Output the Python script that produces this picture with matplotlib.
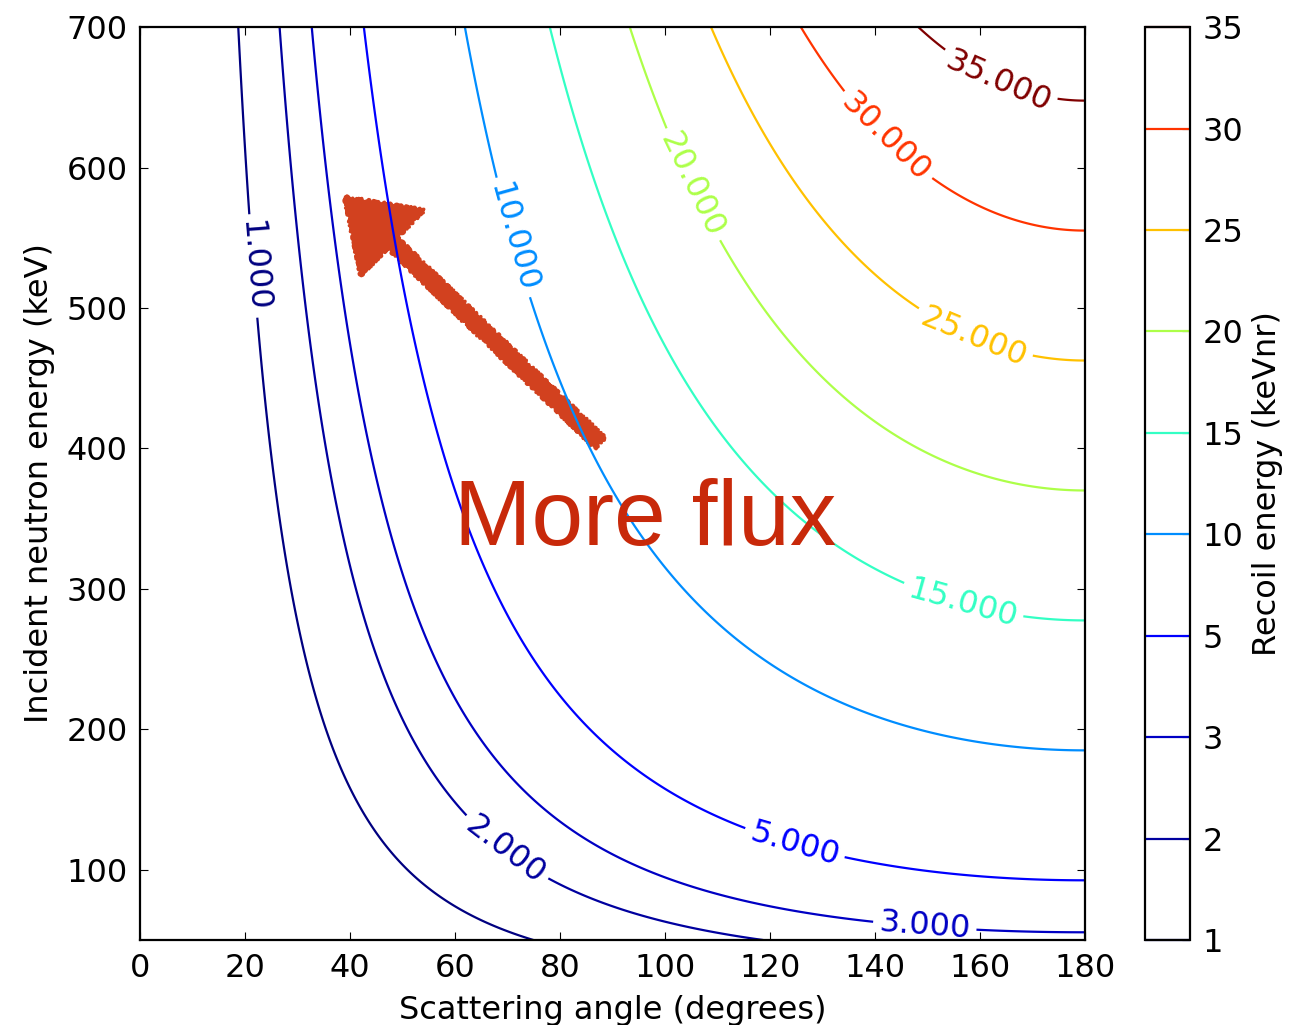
import numpy as np
import matplotlib
matplotlib.use('Agg')
import matplotlib.pyplot as plt
from matplotlib.patches import FancyArrowPatch

# elastic scattering on germanium: recoil energy vs angle and neutron energy
target_mass = 72.0
angle_range = (0, 180)        # degrees
energy_range = (50, 700)      # keV
levels = [1, 2, 3, 5, 10, 15, 20, 25, 30, 35]   # keVnr

# where the inline labels go (angle, neutron energy)
label_spots = [(21.9, 530), (69.5, 114), (149.5, 61), (124.8, 120),
               (70.9, 550), (156.8, 291), (104.8, 587), (159.0, 481),
               (141.9, 621), (163.8, 664)]

# hand-drawn arrow, tail -> head
arrow_tail = (87.6, 404)
arrow_head = (39.0, 579)

plt.rcParams['font.family'] = 'DejaVu Sans'
plt.rcParams['font.size'] = 23
plt.rcParams['xtick.direction'] = 'in'
plt.rcParams['ytick.direction'] = 'in'
plt.rcParams['xtick.top'] = True
plt.rcParams['ytick.right'] = True
plt.rcParams['xtick.major.size'] = 6
plt.rcParams['ytick.major.size'] = 6
plt.rcParams['xtick.major.pad'] = 9
plt.rcParams['ytick.major.pad'] = 9

theta = np.linspace(angle_range[0], angle_range[1], 721)
en = np.linspace(energy_range[0], energy_range[1], 651)
T, E = np.meshgrid(theta, en)
Er = E * 2 * target_mass / (1 + target_mass) ** 2 * (1 - np.cos(np.radians(T)))

fig = plt.figure(figsize=(12.94, 10.25), dpi=100)
ax = fig.add_axes([0.1082, 0.0829, 0.7303, 0.8907])
cax = fig.add_axes([0.8849, 0.0829, 0.0348, 0.8907])

cs = ax.contour(T, E, Er, levels=levels, cmap='jet', linewidths=1.6)
ax.clabel(cs, fmt='%.3f', fontsize=23, inline=True, inline_spacing=6,
          manual=label_spots)

ax.set_xlim(angle_range)
ax.set_ylim(energy_range)
ax.set_xticks(np.arange(0, 181, 20))
ax.set_yticks(np.arange(100, 701, 100))
ax.set_xlabel('Scattering angle (degrees)', labelpad=8)
ax.set_ylabel('Incident neutron energy (keV)', labelpad=8)
for s in ax.spines.values():
    s.set_linewidth(1.6)

cb = fig.colorbar(cs, cax=cax, ticks=levels)
cb.set_label('Recoil energy (keVnr)', labelpad=6)
cb.outline.set_linewidth(1.6)
cax.tick_params(direction='in', length=6, pad=9)

ax.text(96.2, 348, 'More flux', color='#c8290a', fontsize=67,
        family='Liberation Sans', ha='center', va='center')

# filled arrow with a rough, scribbled edge
arr = FancyArrowPatch(arrow_tail, arrow_head,
                      arrowstyle='simple,head_length=0.95,head_width=1.3,tail_width=0.2',
                      mutation_scale=50, lw=2.5, color='#d2411f',
                      joinstyle='round', capstyle='round',
                      shrinkA=0, shrinkB=0)
arr.set_sketch_params(scale=1.5, length=3, randomness=5)
ax.add_patch(arr)

fig.savefig('out.png', dpi=100)
